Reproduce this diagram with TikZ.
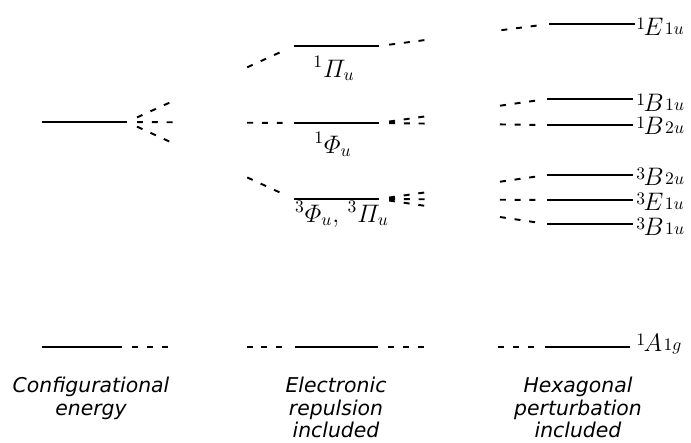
\documentclass[tikz,border=0pt]{standalone}
\usepackage{amsmath}
\usepackage[no-math]{fontspec}
\newfontfamily\captionfont{DejaVu Sans}
\usetikzlibrary{calc}
\newcommand{\stateterm}[3]{$\raisebox{3pt}{$\scriptstyle #1$}\mkern-1mu #2%
    \mkern1mu\raisebox{0.4pt}{$\scriptstyle #3$}$}
\tikzset{
    level/.style={line width=1.7pt},
    stub/.style={line width=1.1pt, dash pattern=on 3.4pt off 5pt},
    term/.style={font=\Large, inner sep=0pt},
    caption/.style={font=\fontsize{11.6}{12.8}\selectfont\captionfont\itshape,
                    align=center, inner sep=0pt},
}

\begin{document}
\begin{tikzpicture}[x=0.02cm, y=-0.02cm]
    \path[use as bounding box] (0,0) rectangle (691,443);

    % levels: name/left/right/height
    \foreach \n/\xa/\xb/\y in {cfg/42/127/122, cfgg/42/122/347,
            pi/294/379/46, phi/294/379/123, trip/294/379/199, midg/295/378/347,
            e1/549/635/24, b1/547/633/99, b2/547/633/125, tb2/547/633/175,
            te1/547/633/200, tb1/547/633/224, a1g/545/630/347} {
        \coordinate (\n W) at (\xa,\y);
        \coordinate (\n E) at (\xb,\y);
        \draw[level] (\n W) -- (\n E);
    }

    % correlation lines, only their ends drawn
    \foreach \a/\b in {cfg/pi, cfg/phi, cfg/trip, cfgg/midg,
            pi/e1, phi/b1, phi/b2, trip/tb2, trip/te1, trip/tb1, midg/a1g} {
        \draw[stub] ($(\a E)!0.06!(\b W)$) -- ($(\a E)!0.28!(\b W)$);
        \draw[stub] ($(\a E)!0.72!(\b W)$) -- ($(\a E)!0.94!(\b W)$);
    }

    \node[term, anchor=base] (piL) at (334,77) {$^1\varPi_u$};
    \node[term, anchor=base] (phiL) at (333,153) {$^1\varPhi_u$};
    \node[term, anchor=base] (tripL) at (342,222)
        {$^3\varPhi_u,\,^3\varPi_u$};
    \foreach \n/\y/\s/\l/\t in {e1/35/1/E/1u, b1/111/1/B/1u, b2/134/1/B/2u,
            tb2/185/3/B/2u, te1/210/3/E/1u, tb1/235/3/B/1u, a1g/351/1/A/1g} {
        \node[term, anchor=base west] (\n L) at (636,\y) {\stateterm{\s}{\l}{\t}};
    }

    \node[caption, anchor=north] (cfgT) at (91,377) {Configurational\\energy};
    \node[caption, anchor=north] (repT) at (336,377) {Electronic\\repulsion\\included};
    \node[caption, anchor=north] (hexT) at (578,377) {Hexagonal\\perturbation\\included};
\end{tikzpicture}
\end{document}
